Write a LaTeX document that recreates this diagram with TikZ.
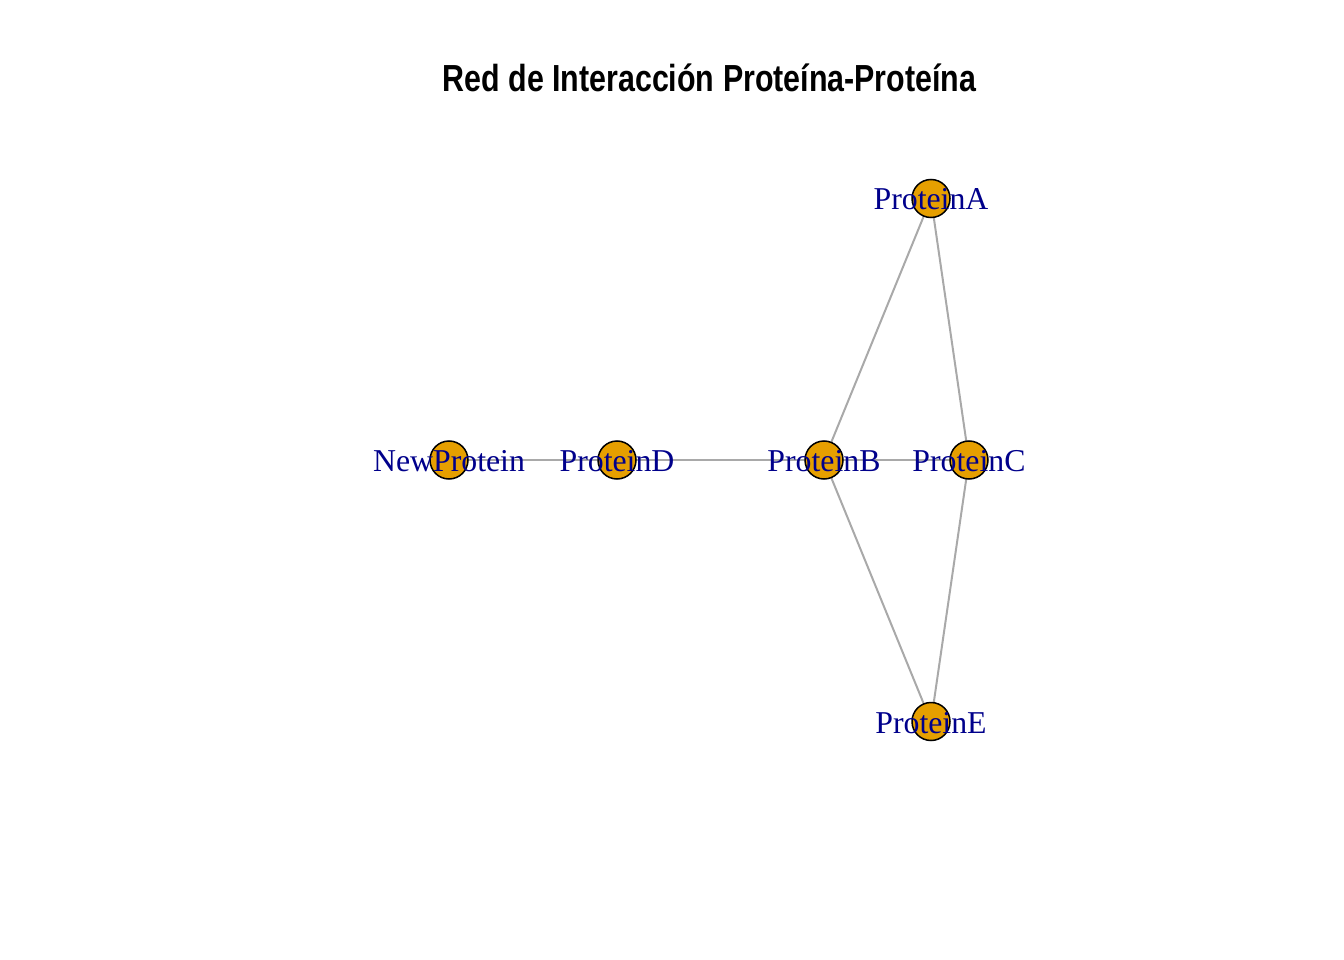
\documentclass[tikz,border=0pt]{standalone}
\usepackage{fontspec}
\setmainfont{Liberation Serif}
\newfontfamily\titlefont{Liberation Sans}
\usetikzlibrary{backgrounds}
\definecolor{vfill}{HTML}{E69F00}
\definecolor{vlabel}{HTML}{00008B}
\definecolor{edgec}{HTML}{A9A9A9}
\tikzset{
  vert/.style={circle, draw=black, line width=1.5pt, fill=vfill, minimum size=38pt, inner sep=0pt},
  vlbl/.style={anchor=base, inner sep=0pt, text=vlabel, font=\fontsize{31.8}{38}\selectfont},
  edge/.style={draw=edgec, line width=2pt},
  ttl/.style={anchor=base, inner sep=0pt, font=\titlefont\bfseries\fontsize{37.7}{44}\selectfont}
}
\begin{document}
\begin{tikzpicture}[x=1pt,y=-1pt]
\useasboundingbox (0,0) rectangle (1344,960);
\node[ttl] (title) at (709.5,92) {\scalebox{0.806}[1]{Red de Interacción Proteína-Proteína}};
\node[vert] (a) at (931,198.5) {};
\node[vert] (new) at (449,460) {};
\node[vert] (d) at (617,460) {};
\node[vert] (b) at (824,460) {};
\node[vert] (c) at (969,460) {};
\node[vert] (e) at (931,721.5) {};
\begin{pgfonlayer}{background}
\draw[edge] (new.center) -- (d.center);
\draw[edge] (d.center) -- (b.center);
\draw[edge] (b.center) -- (a.center);
\draw[edge] (b.center) -- (c.center);
\draw[edge] (b.center) -- (e.center);
\draw[edge] (a.center) -- (c.center);
\draw[edge] (c.center) -- (e.center);
\end{pgfonlayer}
\node[vlbl] (la) at ([yshift=-11.5pt]a.center) {ProteinA};
\node[vlbl] (lnew) at ([yshift=-11.5pt]new.center) {NewProtein};
\node[vlbl] (ld) at ([yshift=-11.5pt]d.center) {ProteinD};
\node[vlbl] (lb) at ([yshift=-11.5pt]b.center) {ProteinB};
\node[vlbl] (lc) at ([yshift=-11.5pt]c.center) {ProteinC};
\node[vlbl] (le) at ([yshift=-11.5pt]e.center) {ProteinE};
\end{tikzpicture}
\end{document}
